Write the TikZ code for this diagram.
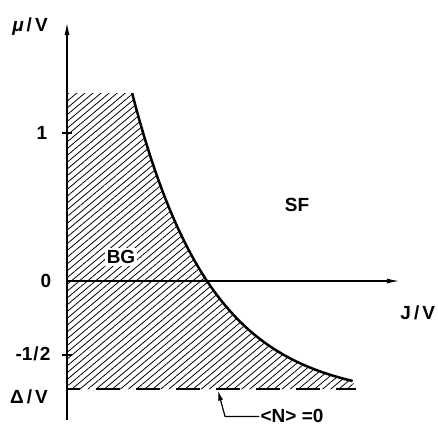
\documentclass[tikz,border=0pt]{standalone}
\usepackage{fontspec}
\setmainfont{Liberation Sans}
\usetikzlibrary{arrows.meta,patterns.meta}
\newcommand{\TopCut}{1.27}
\newcommand{\GapLine}{-.73}
\newcommand{\RightEnd}{1.95}
\newcommand{\TickLen}{.034}
\newcommand{\BoundAmp}{4.728}
\newcommand{\BoundRate}{1.875}
\newcommand{\BoundShift}{.802}
\newcommand{\per}{\kern3pt/\kern3pt}

\begin{document}
\begin{tikzpicture}[x=148pt,y=148pt,font=\fontsize{19}{22}\selectfont\bfseries,
  axis/.style={line width=1.5pt,-{Latex[length=13pt,width=5pt]}}]
\useasboundingbox (-.4527,-1.0) rectangle (2.507,1.899);
% hatched BG region
\fill[pattern={Lines[angle=40,distance=5.2pt,line width=.8pt]}] (0,\GapLine) -- (0,\TopCut)
 -- plot[domain=.44:1.93,samples=60] (\x,{\BoundAmp*exp(-\BoundRate*\x)-\BoundShift})
 -- (\RightEnd,\GapLine) -- cycle;
\draw[line width=2.5pt] plot[domain=.44:1.93,samples=60] (\x,{\BoundAmp*exp(-\BoundRate*\x)-\BoundShift});
% axes
\coordinate (origin) at (0,0);
\coordinate (mutop) at (0,1.75);
\coordinate (mubot) at (0,-.94);
\coordinate (jtip) at (2.25,0);
\draw[axis] (mubot) -- (mutop);
\draw[axis] (origin) -- (jtip);
\draw[line width=1.2pt] (-\TickLen,1) -- (\TickLen,1);
\draw[line width=1.2pt] (-\TickLen,-.5) -- (\TickLen,-.5);
\draw[line width=2pt,dash pattern=on 24pt off 16pt,dash phase=11pt] (0,\GapLine) -- (\RightEnd,\GapLine);
% labels
\node (mulab) at (-.25,1.716) {{\itshape μ}\per V};
\node (one) at (-.169,1) {1};
\node (zero) at (-.142,0) {0};
\node (half) at (-.23,-.493) {-1\kern1pt/\kern1pt2};
\node (gaplab) at (-.257,-.784) {Δ\per V};
\node (jlab) at (2.37,-.216) {J\per V};
\node[fill=white,inner sep=2pt] (bg) at (.365,.162) {BG};
\node (sf) at (1.554,.514) {SF};
\node[anchor=west,inner sep=1pt] (nlab) at (1.3,-.915) {<N> =0};
\coordinate (nbend) at (1.068,-.915);
\coordinate (ntip) at (1.02,-.74);
\draw[line width=1.2pt,-{Latex[length=10pt,width=5pt]}] (nlab.west) -- (nbend) -- (ntip);
\end{tikzpicture}
\end{document}
